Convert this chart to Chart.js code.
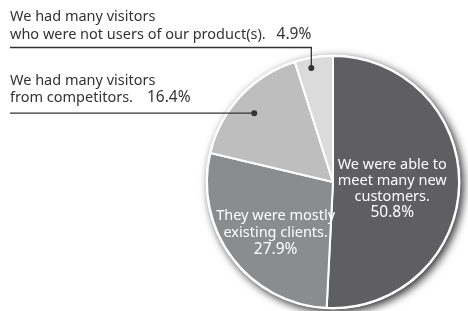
<!DOCTYPE html>
<html>
<head>
<meta charset="utf-8">
<script src="https://cdn.jsdelivr.net/npm/chart.js@4"></script>
<style>
  html, body { margin: 0; padding: 0; background: #fff; }
  #wrap { position: relative; width: 468px; height: 311px; }
</style>
</head>
<body>
<div id="wrap"><canvas id="chart" width="468" height="311"></canvas></div>
<script>
// slices go clockwise from 12 o'clock
const labels = [
  "We were able to meet many new customers.",
  "They were mostly existing clients.",
  "We had many visitors from competitors.",
  "We had many visitors who were not users of our product(s)."
];
const values = [50.8, 27.9, 16.4, 4.9];
const labelLines = [
  ["We were able to", "meet many new", "customers."],
  ["They were mostly", "existing clients."],
  ["We had many visitors", "from competitors."],
  ["We had many visitors", "who were not users of our product(s)."]
];
const sliceColors = ["#5f5f61", "#8b8c8e", "#bebebe", "#dbdbdb"];

const FONT = "14.5px 'Noto Sans', 'DejaVu Sans', sans-serif";
const PCT_FONT = "15.5px 'Noto Sans', 'DejaVu Sans', sans-serif";

// soft shadow behind the whole pie
const pieShadow = {
  id: "pieShadow",
  beforeDatasetsDraw(chart) {
    const arc = chart.getDatasetMeta(0).data[0];
    if (!arc) return;
    const ctx = chart.ctx;
    ctx.save();
    ctx.shadowColor = "rgba(0,0,0,0.8)";
    ctx.shadowBlur = 9;
    ctx.shadowOffsetX = 3;
    ctx.shadowOffsetY = 3;
    ctx.fillStyle = "#fff";
    ctx.beginPath();
    ctx.arc(arc.x, arc.y, arc.outerRadius + 1.5, 0, Math.PI * 2);
    ctx.fill();
    ctx.restore();
  }
};

// labels inside and leader lines outside
const pieLabels = {
  id: "pieLabels",
  afterDatasetsDraw(chart) {
    const ctx = chart.ctx;
    const arcs = chart.getDatasetMeta(0).data;
    const cx = arcs[0].x, cy = arcs[0].y, R = arcs[0].outerRadius;
    ctx.save();
    ctx.font = FONT;
    ctx.textBaseline = "middle";

    // inside labels (white, centered)
    ctx.fillStyle = "#fff";
    ctx.textAlign = "center";
    const inside = [
      { i: 0, x: cx + 0.47 * R, y: cy - 17, step: 16 },
      { i: 1, x: cx - 0.455 * R, y: cy + 34, step: 17 }
    ];
    inside.forEach(function (p) {
      const lines = labelLines[p.i];
      lines.forEach(function (t, k) {
        ctx.font = FONT;
        ctx.fillText(t, p.x, p.y + k * p.step);
      });
      ctx.font = PCT_FONT;
      ctx.fillText(values[p.i].toFixed(1) + "%", p.x, p.y + lines.length * p.step);
    });

    // outside labels with leader lines
    ctx.fillStyle = "#333";
    ctx.strokeStyle = "#333";
    ctx.lineWidth = 1.3;
    ctx.textAlign = "left";
    const left = 10;

    // 4.9% : line goes across then down to dot
    let a = arcs[3];
    let mid = (a.startAngle + a.endAngle) / 2;
    let dx = cx + Math.cos(mid) * 0.915 * R - 4;
    let dy = cy + Math.sin(mid) * 0.915 * R;
    let lineY = 47.5;
    ctx.font = FONT;
    ctx.fillText(labelLines[3][0], left, 17);
    ctx.fillText(labelLines[3][1], left, 35);
    ctx.textAlign = "right";
    ctx.font = PCT_FONT;
    ctx.fillText(values[3].toFixed(1) + "%", dx, 35);
    ctx.beginPath();
    ctx.moveTo(left, lineY);
    ctx.lineTo(dx, lineY);
    ctx.lineTo(dx, dy);
    ctx.stroke();
    ctx.beginPath();
    ctx.arc(dx, dy, 3, 0, Math.PI * 2);
    ctx.fill();

    // 16.4% : straight line to dot
    a = arcs[2];
    mid = (a.startAngle + a.endAngle) / 2 - 0.03;
    dx = cx + Math.cos(mid) * 0.83 * R;
    dy = cy + Math.sin(mid) * 0.83 * R;
    ctx.textAlign = "left";
    ctx.font = FONT;
    ctx.fillText(labelLines[2][0], left, 81);
    ctx.fillText(labelLines[2][1], left, 98);
    const w = ctx.measureText(labelLines[2][1]).width;
    ctx.font = PCT_FONT;
    ctx.fillText(values[2].toFixed(1) + "%", left + w + 14, 98);
    ctx.beginPath();
    ctx.moveTo(left, dy);
    ctx.lineTo(dx, dy);
    ctx.stroke();
    ctx.beginPath();
    ctx.arc(dx, dy, 3, 0, Math.PI * 2);
    ctx.fill();

    ctx.restore();
  }
};

const ctx = document.getElementById("chart").getContext("2d");
const myChart = new Chart(ctx, {
  type: "pie",
  data: {
    labels: labels,
    datasets: [
      {
        data: values,
        backgroundColor: sliceColors,
        borderColor: "#fff",
        borderWidth: 2
      }
    ]
  },
  options: {
    responsive: false,
    animation: false,
    layout: {
      padding: { left: 206, right: 8, top: 55, bottom: 2 }
    },
    plugins: {
      legend: { display: false },
      tooltip: { enabled: false }
    }
  },
  plugins: [pieShadow, pieLabels]
});
</script>
</body>
</html>
